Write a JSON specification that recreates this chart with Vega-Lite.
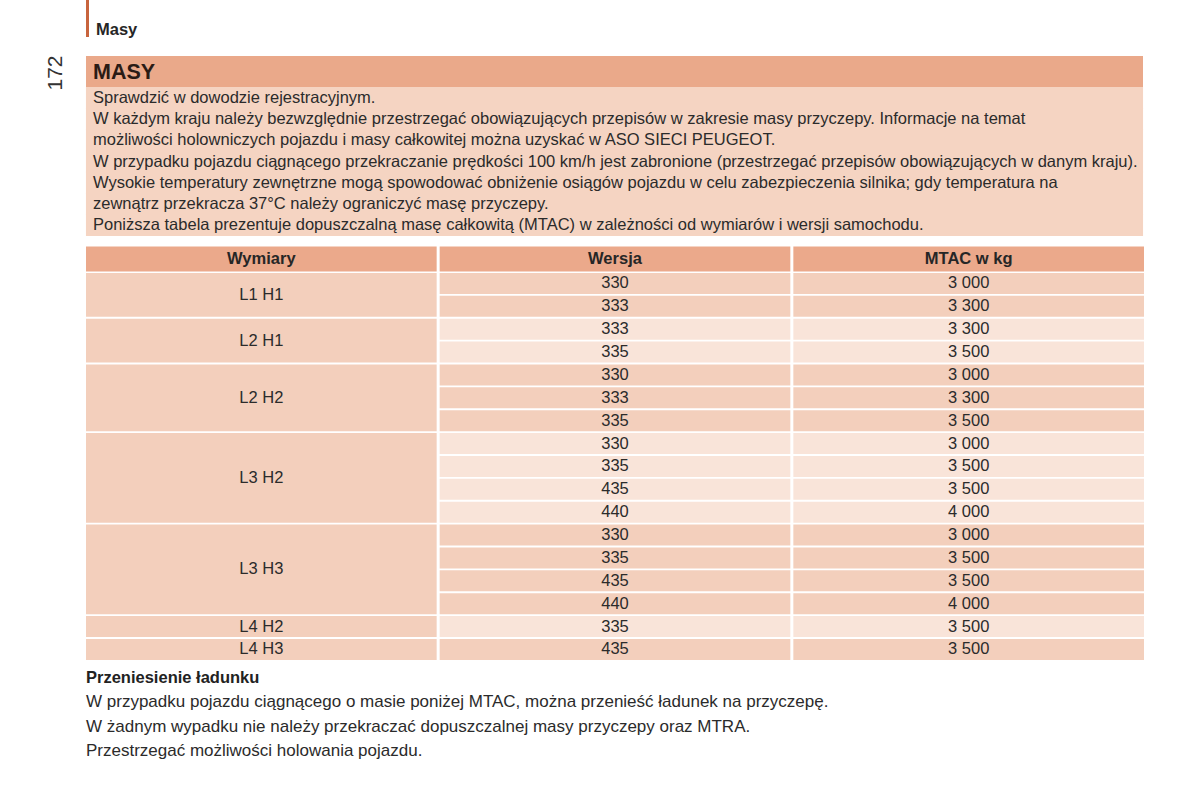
{
  "$schema": "https://vega.github.io/schema/vega-lite/v6.json",
  "width": 1200,
  "height": 800,
  "autosize": {"type": "fit", "contains": "padding"},
  "padding": 0,
  "background": "white",
  "config": {
    "view": {"stroke": null},
    "font": "Liberation Sans",
    "text": {"font": "Liberation Sans", "color": "#2b2b2b"},
    "locale": {"number": {"decimal": ",", "thousands": " ", "grouping": [3], "currency": ["", " zł"]}}
  },
  "datasets": {
    "intro": [
      {"line": 1, "text": "Sprawdzić w dowodzie rejestracyjnym."},
      {"line": 2, "text": "W każdym kraju należy bezwzględnie przestrzegać obowiązujących przepisów w zakresie masy przyczepy. Informacje na temat"},
      {"line": 3, "text": "możliwości holowniczych pojazdu i masy całkowitej można uzyskać w ASO SIECI PEUGEOT."},
      {"line": 4, "text": "W przypadku pojazdu ciągnącego przekraczanie prędkości 100 km/h jest zabronione (przestrzegać przepisów obowiązujących w danym kraju)."},
      {"line": 5, "text": "Wysokie temperatury zewnętrzne mogą spowodować obniżenie osiągów pojazdu w celu zabezpieczenia silnika; gdy temperatura na"},
      {"line": 6, "text": "zewnątrz przekracza 37°C należy ograniczyć masę przyczepy."},
      {"line": 7, "text": "Poniższa tabela prezentuje dopuszczalną masę całkowitą (MTAC) w zależności od wymiarów i wersji samochodu."}
    ],
    "header": [
      {"col": "Wymiary"},
      {"col": "Wersja"},
      {"col": "MTAC w kg"}
    ],
    "rows": [
      {"row": 1, "dim": "L1 H1", "wersja": "330", "mtac": 3000},
      {"row": 2, "dim": "L1 H1", "wersja": "333", "mtac": 3300},
      {"row": 3, "dim": "L2 H1", "wersja": "333", "mtac": 3300},
      {"row": 4, "dim": "L2 H1", "wersja": "335", "mtac": 3500},
      {"row": 5, "dim": "L2 H2", "wersja": "330", "mtac": 3000},
      {"row": 6, "dim": "L2 H2", "wersja": "333", "mtac": 3300},
      {"row": 7, "dim": "L2 H2", "wersja": "335", "mtac": 3500},
      {"row": 8, "dim": "L3 H2", "wersja": "330", "mtac": 3000},
      {"row": 9, "dim": "L3 H2", "wersja": "335", "mtac": 3500},
      {"row": 10, "dim": "L3 H2", "wersja": "435", "mtac": 3500},
      {"row": 11, "dim": "L3 H2", "wersja": "440", "mtac": 4000},
      {"row": 12, "dim": "L3 H3", "wersja": "330", "mtac": 3000},
      {"row": 13, "dim": "L3 H3", "wersja": "335", "mtac": 3500},
      {"row": 14, "dim": "L3 H3", "wersja": "435", "mtac": 3500},
      {"row": 15, "dim": "L3 H3", "wersja": "440", "mtac": 4000},
      {"row": 16, "dim": "L4 H2", "wersja": "335", "mtac": 3500},
      {"row": 17, "dim": "L4 H3", "wersja": "435", "mtac": 3500}
    ],
    "outro": [
      {"line": 1, "text": "W przypadku pojazdu ciągnącego o masie poniżej MTAC, można przenieść ładunek na przyczepę."},
      {"line": 2, "text": "W żadnym wypadku nie należy przekraczać dopuszczalnej masy przyczepy oraz MTRA."},
      {"line": 3, "text": "Przestrzegać możliwości holowania pojazdu."}
    ]
  },
  "layer": [
    {
      "data": {"values": [{"t": "Masy"}]},
      "layer": [
        {
          "mark": {"type": "rect", "color": "#c8643d"},
          "encoding": {
            "x": {"field": "t", "type": "nominal", "axis": null, "scale": {"type": "band", "range": [86, 89], "paddingInner": 0, "paddingOuter": 0}},
            "y": {"field": "t", "type": "nominal", "axis": null, "scale": {"type": "band", "range": [0, 37], "paddingInner": 0, "paddingOuter": 0}}
          }
        },
        {
          "mark": {"type": "text", "align": "left", "baseline": "middle", "dx": 7, "fontSize": 16.5, "fontWeight": "bold", "color": "#262626"},
          "encoding": {
            "x": {"field": "t", "type": "nominal", "axis": null, "bandPosition": 1},
            "y": {"field": "t", "type": "nominal", "axis": null, "bandPosition": 0.82},
            "text": {"field": "t"}
          }
        }
      ]
    },
    {
      "data": {"values": [{"p": "172"}]},
      "mark": {"type": "text", "align": "center", "baseline": "middle", "angle": 270, "fontSize": 21, "color": "#333333"},
      "encoding": {
        "x": {"field": "p", "type": "nominal", "axis": null, "scale": {"type": "band", "range": [41, 71], "paddingInner": 0, "paddingOuter": 0}},
        "y": {"field": "p", "type": "nominal", "axis": null, "scale": {"type": "band", "range": [57, 89], "paddingInner": 0, "paddingOuter": 0}},
        "text": {"field": "p"}
      }
    },
    {
      "data": {"values": [{"t": "MASY"}]},
      "layer": [
        {
          "mark": {"type": "rect", "color": "#eaa98a"},
          "encoding": {
            "x": {"field": "t", "type": "nominal", "axis": null, "scale": {"type": "band", "range": [86, 1143], "paddingInner": 0, "paddingOuter": 0}},
            "y": {"field": "t", "type": "nominal", "axis": null, "scale": {"type": "band", "range": [56, 87], "paddingInner": 0, "paddingOuter": 0}}
          }
        },
        {
          "mark": {"type": "text", "align": "left", "baseline": "middle", "dx": 7, "dy": 1, "fontSize": 21.5, "fontWeight": "bold", "color": "#2a1b15"},
          "encoding": {
            "x": {"field": "t", "type": "nominal", "axis": null, "bandPosition": 0},
            "y": {"field": "t", "type": "nominal", "axis": null},
            "text": {"field": "t"}
          }
        }
      ]
    },
    {
      "data": {"name": "intro"},
      "layer": [
        {
          "mark": {"type": "rect", "color": "#f5d4c2", "stroke": "#f5d4c2", "strokeWidth": 1.5},
          "encoding": {
            "x": {"datum": "box", "type": "nominal", "axis": null, "scale": {"type": "band", "range": [86.7, 1142.3], "paddingInner": 0, "paddingOuter": 0}},
            "y": {"field": "line", "type": "ordinal", "axis": null, "scale": {"type": "band", "range": [87.7, 235.3], "paddingInner": 0, "paddingOuter": 0}}
          }
        },
        {
          "mark": {"type": "text", "align": "left", "baseline": "middle", "dx": 6.3, "fontSize": 16.5, "color": "#2b2b2b"},
          "encoding": {
            "x": {"datum": "box", "type": "nominal", "axis": null, "bandPosition": 0},
            "y": {"field": "line", "type": "ordinal", "axis": null},
            "text": {"field": "text"}
          }
        }
      ]
    },
    {
      "layer": [
        {
          "data": {"name": "header"},
          "mark": {"type": "rect", "color": "#eba98b", "height": 25, "yOffset": -1.5},
          "encoding": {
            "x": {"field": "col", "type": "nominal", "axis": null, "sort": null, "scale": {"type": "band", "domain": ["Wymiary", "Wersja", "MTAC w kg"], "range": [86, 1144], "paddingInner": 0.0085, "paddingOuter": 0}},
            "y": {"datum": 0, "type": "quantitative", "axis": null, "scale": {"domain": [-11.386, 23.579], "reverse": true, "nice": false, "zero": false}}
          }
        },
        {
          "data": {"name": "header"},
          "mark": {"type": "text", "align": "center", "baseline": "middle", "fontSize": 16.5, "fontWeight": "bold", "color": "#262626", "dy": -1.5},
          "encoding": {
            "x": {"field": "col", "type": "nominal", "axis": null},
            "y": {"datum": 0, "type": "quantitative", "axis": null},
            "text": {"field": "col"}
          }
        },
        {
          "data": {"name": "rows"},
          "transform": [
            {"aggregate": [
              {"op": "min", "field": "row", "as": "r0"},
              {"op": "max", "field": "row", "as": "r1"},
              {"op": "mean", "field": "row", "as": "rm"}
            ], "groupby": ["dim"]}
          ],
          "layer": [
            {
              "mark": {"type": "rect", "color": "#f3cfbc", "yOffset": -10.5, "y2Offset": 10.5},
              "encoding": {
                "x": {"datum": "Wymiary", "type": "nominal", "axis": null},
                "y": {"field": "r0", "type": "quantitative", "axis": null},
                "y2": {"field": "r1"}
              }
            },
            {
              "mark": {"type": "text", "align": "center", "baseline": "middle", "fontSize": 16.5, "color": "#2b2b2b"},
              "encoding": {
                "x": {"datum": "Wymiary", "type": "nominal", "axis": null},
                "y": {"field": "rm", "type": "quantitative", "axis": null},
                "text": {"field": "dim"}
              }
            }
          ]
        },
        {
          "data": {"name": "rows"},
          "layer": [
            {
              "mark": {"type": "rect", "height": 21},
              "encoding": {
                "x": {"datum": "Wersja", "type": "nominal", "axis": null},
                "y": {"field": "row", "type": "quantitative", "axis": null, "stack": null},
                "color": {"field": "dim", "type": "nominal", "legend": null, "scale": {"domain": ["L1 H1", "L2 H1", "L2 H2", "L3 H2", "L3 H3", "L4 H2", "L4 H3"], "range": ["#f3cfbc", "#f9e4d9", "#f3cfbc", "#f9e4d9", "#f3cfbc", "#f9e4d9", "#f3cfbc"]}}
              }
            },
            {
              "mark": {"type": "rect", "height": 21},
              "encoding": {
                "x": {"datum": "MTAC w kg", "type": "nominal", "axis": null},
                "y": {"field": "row", "type": "quantitative", "axis": null, "stack": null},
                "color": {"field": "dim", "type": "nominal", "legend": null}
              }
            },
            {
              "mark": {"type": "text", "align": "center", "baseline": "middle", "fontSize": 16.5, "color": "#2b2b2b"},
              "encoding": {
                "x": {"datum": "Wersja", "type": "nominal", "axis": null},
                "y": {"field": "row", "type": "quantitative", "axis": null},
                "text": {"field": "wersja"}
              }
            },
            {
              "mark": {"type": "text", "align": "center", "baseline": "middle", "fontSize": 16.5, "color": "#2b2b2b"},
              "encoding": {
                "x": {"datum": "MTAC w kg", "type": "nominal", "axis": null},
                "y": {"field": "row", "type": "quantitative", "axis": null},
                "text": {"field": "mtac", "type": "quantitative", "format": ",d"}
              }
            }
          ]
        }
      ]
    },
    {
      "layer": [
        {
          "data": {"values": [{"line": 0, "text": "Przeniesienie ładunku"}]},
          "mark": {"type": "text", "align": "left", "baseline": "middle", "fontSize": 16.5, "fontWeight": "bold", "color": "#222222"},
          "encoding": {
            "x": {"datum": "page", "type": "nominal", "axis": null, "bandPosition": 0, "scale": {"type": "band", "range": [86, 1144], "paddingInner": 0, "paddingOuter": 0}},
            "y": {"field": "line", "type": "ordinal", "axis": null, "scale": {"type": "band", "domain": [0, 1, 2, 3], "range": [666, 763], "paddingInner": 0, "paddingOuter": 0}},
            "text": {"field": "text"}
          }
        },
        {
          "data": {"name": "outro"},
          "mark": {"type": "text", "align": "left", "baseline": "middle", "fontSize": 17, "color": "#2b2b2b"},
          "encoding": {
            "x": {"datum": "page", "type": "nominal", "axis": null, "bandPosition": 0},
            "y": {"field": "line", "type": "ordinal", "axis": null},
            "text": {"field": "text"}
          }
        }
      ]
    }
  ],
  "resolve": {"scale": {"x": "independent", "y": "independent", "color": "independent"}}
}
